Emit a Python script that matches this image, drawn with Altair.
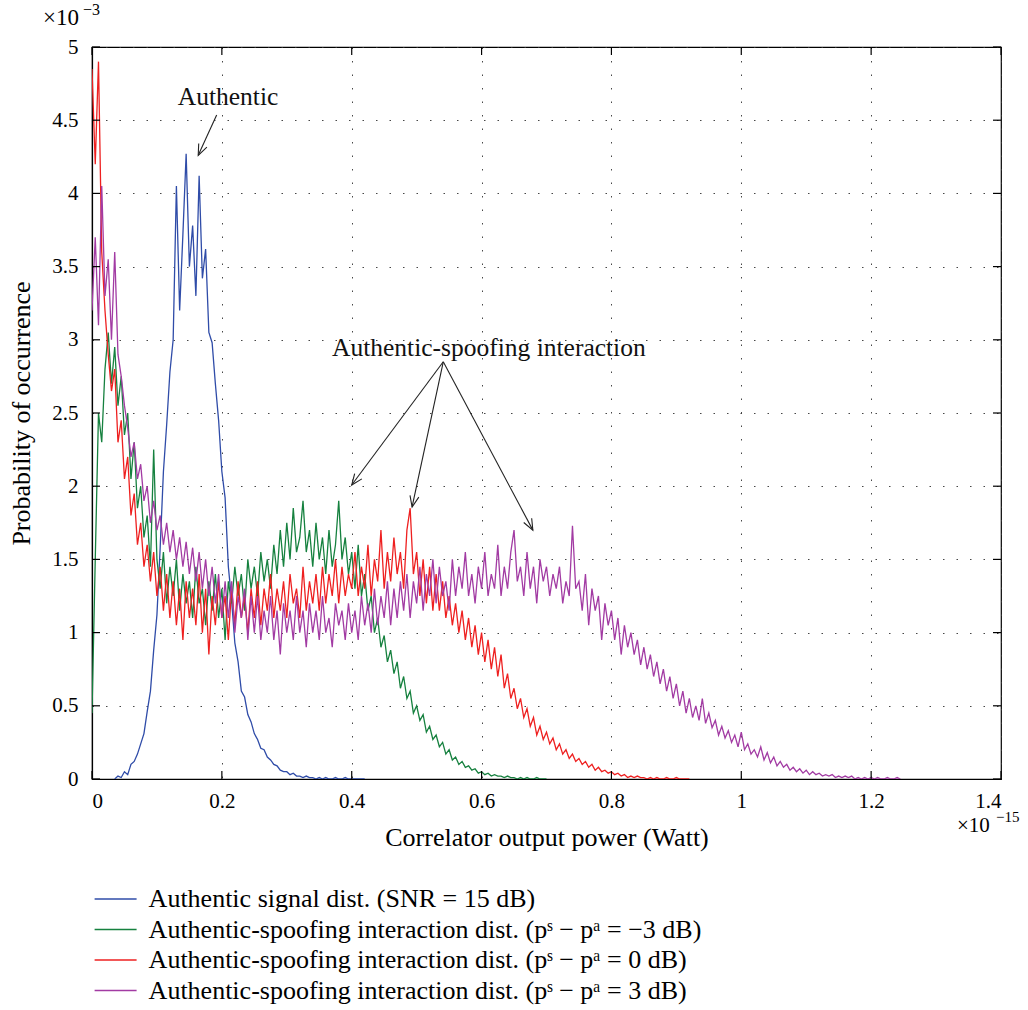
import math
import altair as alt
import pandas as pd
import numpy as np

# ---------------- data (x in units of 1e-15 W, y in units of 1e-3) ----------------
X_STEP = 0.005

blue_start = 0.035
blue_vals = [0.00, 0.02, 0.01, 0.05, 0.03, 0.10, 0.12, 0.17, 0.24, 0.31, 0.46, 0.60, 0.88, 1.12,
             1.58, 2.10, 2.42, 2.78, 3.00, 4.05, 3.20, 3.72, 4.27, 3.50, 3.78, 3.30, 4.12, 3.42,
             3.62, 3.05, 2.98, 2.70, 2.45, 2.10, 1.92, 1.45, 1.22, 0.93, 0.80, 0.60, 0.56, 0.44,
             0.39, 0.31, 0.27, 0.21, 0.20, 0.15, 0.13, 0.10, 0.09, 0.06, 0.05, 0.05, 0.03, 0.04,
             0.02, 0.02, 0.01, 0.02, 0.01, 0.01, 0.00, 0.01, 0.00, 0.01, 0.00, 0.00, 0.01, 0.00,
             0.00, 0.01, 0.00, 0.00, 0.00, 0.00, 0.00, 0.00]

green_start = 0.0
green_vals = [0.45, 1.50, 2.50, 2.30, 2.80, 3.05, 2.70, 2.95, 2.55, 2.75, 2.35, 2.50, 2.05, 2.30,
              1.85, 2.00, 1.65, 1.80, 1.45, 2.25, 1.50, 1.30, 1.55, 1.20, 1.45, 1.25, 1.50, 1.15,
              1.40, 1.20, 1.35, 1.10, 1.45, 1.20, 1.30, 1.05, 1.35, 1.15, 1.40, 1.10, 1.30, 0.95,
              1.35, 1.20, 1.45, 1.25, 1.40, 1.15, 1.50, 1.30, 1.45, 1.25, 1.55, 1.35, 1.50, 1.30,
              1.60, 1.40, 1.70, 1.45, 1.75, 1.50, 1.85, 1.55, 1.65, 1.90, 1.55, 1.70, 1.45, 1.75,
              1.50, 1.65, 1.40, 1.70, 1.45, 1.60, 1.90, 1.50, 1.65, 1.40, 1.55, 1.30, 1.60, 1.25,
              1.40, 1.15, 1.25, 1.00, 1.10, 0.90, 0.98, 0.80, 0.88, 0.72, 0.80, 0.62, 0.70, 0.55,
              0.60, 0.45, 0.50, 0.40, 0.44, 0.32, 0.36, 0.27, 0.30, 0.22, 0.25, 0.17, 0.20, 0.13,
              0.15, 0.10, 0.12, 0.08, 0.09, 0.06, 0.07, 0.04, 0.05, 0.03, 0.04, 0.02, 0.03, 0.02,
              0.02, 0.01, 0.02, 0.01, 0.01, 0.00, 0.01, 0.00, 0.01, 0.00, 0.00, 0.01, 0.00, 0.00,
              0.00]

red_start = 0.0
red_vals = [4.85, 4.20, 4.90, 3.60, 3.20, 2.90, 2.65, 2.80, 2.30, 2.45, 2.05, 2.20, 1.80, 1.95,
            1.60, 1.75, 1.45, 1.60, 1.35, 1.55, 1.25, 1.45, 1.15, 1.40, 1.10, 1.35, 1.05, 1.30,
            0.95, 1.35, 1.10, 1.30, 1.05, 1.40, 1.00, 1.30, 0.85, 1.25, 1.05, 1.35, 1.10, 1.25,
            0.95, 1.30, 1.05, 1.35, 1.10, 1.25, 1.00, 1.30, 1.10, 1.35, 1.05, 1.30, 1.15, 1.40,
            1.10, 1.30, 1.15, 1.35, 1.10, 1.40, 1.20, 1.30, 1.10, 1.45, 1.15, 1.35, 1.20, 1.40,
            1.15, 1.45, 1.20, 1.40, 1.25, 1.50, 1.20, 1.45, 1.25, 1.40, 1.30, 1.55, 1.25, 1.45,
            1.30, 1.60, 1.25, 1.50, 1.35, 1.70, 1.30, 1.55, 1.35, 1.65, 1.40, 1.55, 1.30, 1.70,
            1.85, 1.40, 1.55, 1.25, 1.50, 1.20, 1.45, 1.15, 1.40, 1.15, 1.35, 1.10, 1.25, 1.05,
            1.20, 1.00, 1.15, 0.95, 1.10, 0.90, 1.05, 0.85, 1.00, 0.80, 0.95, 0.75, 0.90, 0.70,
            0.85, 0.62, 0.72, 0.55, 0.62, 0.48, 0.55, 0.42, 0.48, 0.36, 0.42, 0.30, 0.36, 0.27,
            0.32, 0.24, 0.28, 0.20, 0.24, 0.17, 0.20, 0.14, 0.17, 0.12, 0.14, 0.10, 0.12, 0.08,
            0.10, 0.06, 0.08, 0.05, 0.06, 0.04, 0.05, 0.03, 0.04, 0.02, 0.03, 0.01, 0.02, 0.01,
            0.02, 0.01, 0.01, 0.00, 0.01, 0.00, 0.01, 0.00, 0.00, 0.01, 0.00, 0.00, 0.01, 0.00,
            0.00, 0.00, 0.00]

purple_start = 0.0
purple_vals = [3.20, 3.70, 3.10, 4.05, 3.30, 3.55, 3.00, 3.60, 2.90, 2.75, 2.55, 2.40, 2.20, 2.30,
               2.05, 2.15, 1.90, 2.00, 1.75, 1.90, 1.70, 1.80, 1.60, 1.75, 1.55, 1.70, 1.50, 1.65,
               1.45, 1.62, 1.40, 1.58, 1.35, 1.55, 1.30, 1.50, 1.25, 1.45, 1.20, 1.40, 1.10, 1.35,
               1.10, 1.35, 1.00, 1.25, 1.10, 1.30, 0.95, 1.25, 1.00, 1.25, 0.95, 1.15, 1.00, 1.25,
               0.95, 1.15, 0.85, 1.20, 1.00, 1.15, 0.95, 1.25, 1.00, 1.15, 0.90, 1.20, 1.00, 1.15,
               0.95, 1.25, 1.00, 1.10, 0.90, 1.20, 1.05, 1.15, 0.95, 1.20, 1.00, 1.15, 0.95, 1.25,
               1.05, 1.20, 1.00, 1.30, 1.05, 1.25, 1.10, 1.35, 1.05, 1.30, 1.10, 1.35, 1.15, 1.40,
               1.10, 1.35, 1.20, 1.45, 1.15, 1.40, 1.25, 1.50, 1.20, 1.45, 1.25, 1.35, 1.15, 1.50,
               1.25, 1.45, 1.30, 1.55, 1.25, 1.40, 1.20, 1.45, 1.30, 1.55, 1.25, 1.40, 1.30, 1.60,
               1.25, 1.45, 1.30, 1.55, 1.70, 1.35, 1.45, 1.25, 1.55, 1.30, 1.45, 1.20, 1.50, 1.35,
               1.45, 1.25, 1.40, 1.30, 1.45, 1.20, 1.35, 1.25, 1.73, 1.30, 1.35, 1.15, 1.40, 1.05,
               1.30, 1.15, 1.25, 0.95, 1.20, 1.05, 1.15, 0.95, 1.10, 0.85, 1.05, 0.90, 1.00, 0.85,
               0.95, 0.78, 0.90, 0.75, 0.85, 0.70, 0.80, 0.65, 0.75, 0.60, 0.70, 0.55, 0.65, 0.50,
               0.60, 0.45, 0.55, 0.42, 0.50, 0.40, 0.55, 0.38, 0.45, 0.35, 0.40, 0.30, 0.36, 0.28,
               0.33, 0.25, 0.30, 0.22, 0.32, 0.20, 0.24, 0.17, 0.20, 0.15, 0.22, 0.13, 0.18, 0.11,
               0.15, 0.09, 0.12, 0.08, 0.10, 0.06, 0.08, 0.05, 0.07, 0.04, 0.06, 0.03, 0.05, 0.03,
               0.04, 0.02, 0.03, 0.02, 0.03, 0.01, 0.02, 0.01, 0.02, 0.01, 0.02, 0.00, 0.01, 0.00,
               0.01, 0.00, 0.01, 0.00, 0.01, 0.00, 0.00, 0.01, 0.00, 0.00, 0.01, 0.00]

series_names = [
    "Authentic signal dist. (SNR = 15 dB)",
    "Authentic-spoofing interaction dist. (pˢ − pᵃ = −3 dB)",
    "Authentic-spoofing interaction dist. (pˢ − pᵃ = 0 dB)",
    "Authentic-spoofing interaction dist. (pˢ − pᵃ = 3 dB)",
]
series_colors = ["#2f4ca8", "#16813f", "#ee2020", "#a23ba3"]

x_ticks = [0, 0.2, 0.4, 0.6, 0.8, 1.0, 1.2, 1.4]
y_ticks = [0, 0.5, 1, 1.5, 2, 2.5, 3, 3.5, 4, 4.5, 5]

# annotations (data coordinates)
ann_texts = ["Authentic", "Authentic-spoofing interaction"]
ann_x = [0.2095, 0.3696]
ann_y = [4.66, 2.944]
arrow_tail_x = [0.192, 0.541, 0.541, 0.541]
arrow_tail_y = [4.535, 2.85, 2.85, 2.85]
arrow_tip_x = [0.1636, 0.400, 0.493, 0.679]
arrow_tip_y = [4.26, 2.008, 1.858, 1.70]

# ---------------- layout ----------------
W, H = 909, 732
PAD = {"left": 92, "top": 47, "right": 27, "bottom": 231}
FONT = "Liberation Serif"

rows = []
for name, start, vals in zip(series_names,
                             [blue_start, green_start, red_start, purple_start],
                             [blue_vals, green_vals, red_vals, purple_vals]):
    for i, v in enumerate(vals):
        rows.append({"x": round(start + i * X_STEP, 4), "y": v, "series": name})
df = pd.DataFrame(rows)

xs = alt.Scale(domain=[0, 1.4], nice=False, zero=False)
ys = alt.Scale(domain=[0, 5], nice=False, zero=False)

x_axis = alt.Axis(values=x_ticks, format="~g", title="Correlator output power (Watt)",
                  grid=True, ticks=False, labelPadding=11, titlePadding=13)
y_axis = alt.Axis(values=y_ticks, format="~g", title="Probability of occurrence",
                  grid=True, ticks=False, labelPadding=14, titlePadding=17)


def X(field):
    return alt.X(field, scale=xs, axis=x_axis)


def Y(field):
    return alt.Y(field, scale=ys, axis=y_axis)


color = alt.Color(
    "series:N",
    scale=alt.Scale(domain=series_names, range=series_colors),
    sort=series_names,
    legend=alt.Legend(
        title=None, orient="none", legendX=10.6, legendY=839, direction="vertical",
        symbolType="M-2.5,0H2.5", symbolSize=282, symbolStrokeWidth=1.6,
        labelFont=FONT, labelFontSize=26, labelColor="black", labelOffset=20,
        labelLimit=0, rowPadding=4.5, padding=0,
    ),
)

layers = []
for name in series_names:
    layers.append(
        alt.Chart(df).transform_filter(alt.datum.series == name)
        .mark_line(strokeWidth=1.3, clip=True, interpolate="linear")
        .encode(x=X("x:Q"), y=Y("y:Q"), color=color)
    )

# inward tick marks on all four sides
tick_len_x = 8 / (W / 1.4)
tick_len_y = 8 / (H / 5)
tick_rows = []
for v in x_ticks:
    tick_rows.append({"x": v, "x2": v, "y": 0, "y2": tick_len_y})
    tick_rows.append({"x": v, "x2": v, "y": 5, "y2": 5 - tick_len_y})
for v in y_ticks:
    tick_rows.append({"x": 0, "x2": tick_len_x, "y": v, "y2": v})
    tick_rows.append({"x": 1.4, "x2": 1.4 - tick_len_x, "y": v, "y2": v})
ticks = alt.Chart(pd.DataFrame(tick_rows)).mark_rule(color="black", strokeWidth=1.2).encode(
    x=X("x:Q"), x2="x2:Q", y=Y("y:Q"), y2="y2:Q")

# arrows
px_x = W / 1.4
px_y = H / 5
angles = []
for tx, ty, hx, hy in zip(arrow_tail_x, arrow_tail_y, arrow_tip_x, arrow_tip_y):
    dx = (hx - tx) * px_x
    dy = -(hy - ty) * px_y
    angles.append(math.degrees(math.atan2(dx, -dy)) % 360)
arr_df = pd.DataFrame({"x": arrow_tail_x, "y": arrow_tail_y, "x2": arrow_tip_x,
                       "y2": arrow_tip_y, "angle": angles})
shafts = alt.Chart(arr_df).mark_rule(color="#222", strokeWidth=1.1).encode(
    x=X("x:Q"), x2="x2:Q", y=Y("y:Q"), y2="y2:Q")
heads = alt.Chart(arr_df).mark_point(
    shape="M-0.45,1.1L0,0L0.45,1.1", filled=False, color="#222", strokeWidth=1.1,
    size=400, opacity=1).encode(
    x=X("x2:Q"), y=Y("y2:Q"), angle=alt.Angle("angle:Q", scale=None))

ann_df = pd.DataFrame({"t": ann_texts, "x": ann_x, "y": ann_y})
ann1 = alt.Chart(ann_df.iloc[[0]]).mark_text(font=FONT, fontSize=25.5, align="center",
                                             baseline="middle", color="#111").encode(
    x=X("x:Q"), y=Y("y:Q"), text="t:N")
ann2 = alt.Chart(ann_df.iloc[[1]]).mark_text(font=FONT, fontSize=25.5, align="left",
                                             baseline="middle", color="#111").encode(
    x=X("x:Q"), y=Y("y:Q"), text="t:N")


def txt(s, x, y, size):
    return alt.Chart(pd.DataFrame({"t": [s]})).mark_text(
        font=FONT, fontSize=size, align="left", baseline="alphabetic", color="black").encode(
        x=alt.value(x), y=alt.value(y), text="t:N")


exp_y = txt("×10", -49, -22, 23) + txt("−3", -9, -32, 16)
exp_x = txt("×10", 865, 785, 21) + txt("−15", 904, 775, 15)

chart = alt.layer(*layers, ticks, shafts, heads, ann1, ann2, exp_y, exp_x).resolve_scale(
    color="shared").properties(
    width=W, height=H, autosize=alt.AutoSizeParams(type="none"), padding=PAD,
    background="white",
).configure_view(stroke="black", strokeWidth=1.2).configure_axis(
    labelFont=FONT, labelFontSize=21, labelColor="black",
    titleFont=FONT, titleFontSize=26, titleFontWeight="normal", titleColor="black",
    domainColor="black", domainWidth=1.2,
    gridColor="#333", gridDash=[1.5, 12], gridWidth=1, gridOpacity=0.9,
)

chart.save("out.html", embed_options={"renderer": "svg", "actions": False})
